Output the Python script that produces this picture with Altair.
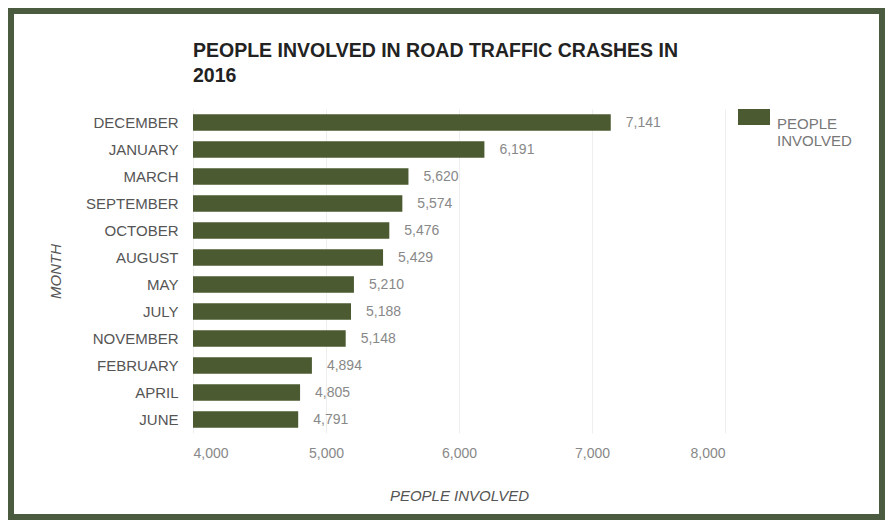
import altair as alt
import pandas as pd

# ---- data ----
months = ["DECEMBER", "JANUARY", "MARCH", "SEPTEMBER", "OCTOBER", "AUGUST",
          "MAY", "JULY", "NOVEMBER", "FEBRUARY", "APRIL", "JUNE"]
people = [7141, 6191, 5620, 5574, 5476, 5429, 5210, 5188, 5148, 4894, 4805, 4791]
x_ticks = [4000, 5000, 6000, 7000, 8000]
series_name = "PEOPLE INVOLVED"
title_lines = ["PEOPLE INVOLVED IN ROAD TRAFFIC CRASHES IN", "2016"]

df = pd.DataFrame({"month": months, "people": people,
                   "series": [series_name] * len(months)})

# ---- layout ----
W, H = 532, 324
PAD = {"left": 185, "top": 101, "right": 160, "bottom": 87}
TOTAL_W = W + PAD["left"] + PAD["right"]
TOTAL_H = H + PAD["top"] + PAD["bottom"]

BAR = "#4b5a30"
BORDER = "#4b5b40"
FONT = "Liberation Sans"

y_enc = alt.Y(
    "month:N", sort=months,
    scale=alt.Scale(paddingInner=0.39, paddingOuter=0.195),
    axis=alt.Axis(
        title="MONTH", labelFontSize=15, labelColor="#555555", labelFont=FONT,
        labelPadding=15, ticks=False, domain=False,
        titleAngle=270, titleX=-138, titleY=H / 2, titleAlign="center",
        titleBaseline="middle", titleFontStyle="italic", titleFontWeight="normal",
        titleFontSize=15, titleColor="#555555", titleFont=FONT,
    ),
)

x_enc = alt.X(
    "people:Q",
    scale=alt.Scale(domain=[x_ticks[0], x_ticks[-1]], nice=False),
    axis=alt.Axis(
        values=x_ticks, format=",d", labelFontSize=14, labelColor="#888888",
        labelFont=FONT, labelPadding=13, ticks=False, domain=False, grid=True,
        gridColor="#eeeeee", gridWidth=1,
        title="PEOPLE INVOLVED", titleFontStyle="italic", titleFontWeight="normal",
        titleFontSize=15, titleColor="#555555", titleFont=FONT,
        titleX=W / 2, titleY=62, titleAlign="center", titleBaseline="middle",
    ),
)

base = alt.Chart(df)

bars = base.mark_bar().encode(
    y=y_enc,
    x=x_enc,
    x2=alt.datum(x_ticks[0]),
    color=alt.Color(
        "series:N", scale=alt.Scale(range=[BAR]),
        legend=alt.Legend(
            title=None, orient="none", legendX=545, legendY=-8,
            symbolType="M-1,-0.5H1V0.5H-1Z", symbolSize=1024,
            symbolStrokeWidth=0, labelFontSize=15, labelColor="#777777",
            labelFont=FONT, labelOffset=7,
            labelExpr="split(datum.label, ' ')", labelBaseline="top",
            padding=0,
        ),
    ),
)

labels = base.mark_text(
    align="left", baseline="middle", dx=15, fontSize=14, color="#888888", font=FONT
).encode(
    y=alt.Y("month:N", sort=months),
    x=alt.X("people:Q"),
    text=alt.Text("people:Q", format=",d"),
)

frame = alt.Chart(alt.Data(values=[{"k": 1}])).mark_rect(
    fillOpacity=0, stroke=BORDER, strokeWidth=6
).encode(
    x=alt.value(3 - PAD["left"]),
    x2=alt.value(TOTAL_W - 3 - PAD["left"]),
    y=alt.value(3 - PAD["top"]),
    y2=alt.value(TOTAL_H - 3 - PAD["top"]),
)

chart = alt.layer(bars, labels, frame).properties(
    width=W, height=H,
    autosize=alt.AutoSizeParams(type="none"),
    padding=PAD,
    background="#ffffff",
    title=alt.Title(
        title_lines, anchor="start", frame="group", fontSize=19.5, font=FONT,
        fontWeight="bold", color="#222222", lineHeight=25, offset=-78,
    ),
).configure_view(strokeWidth=0)

chart.save("out.html", embed_options={"renderer": "svg", "actions": False})
